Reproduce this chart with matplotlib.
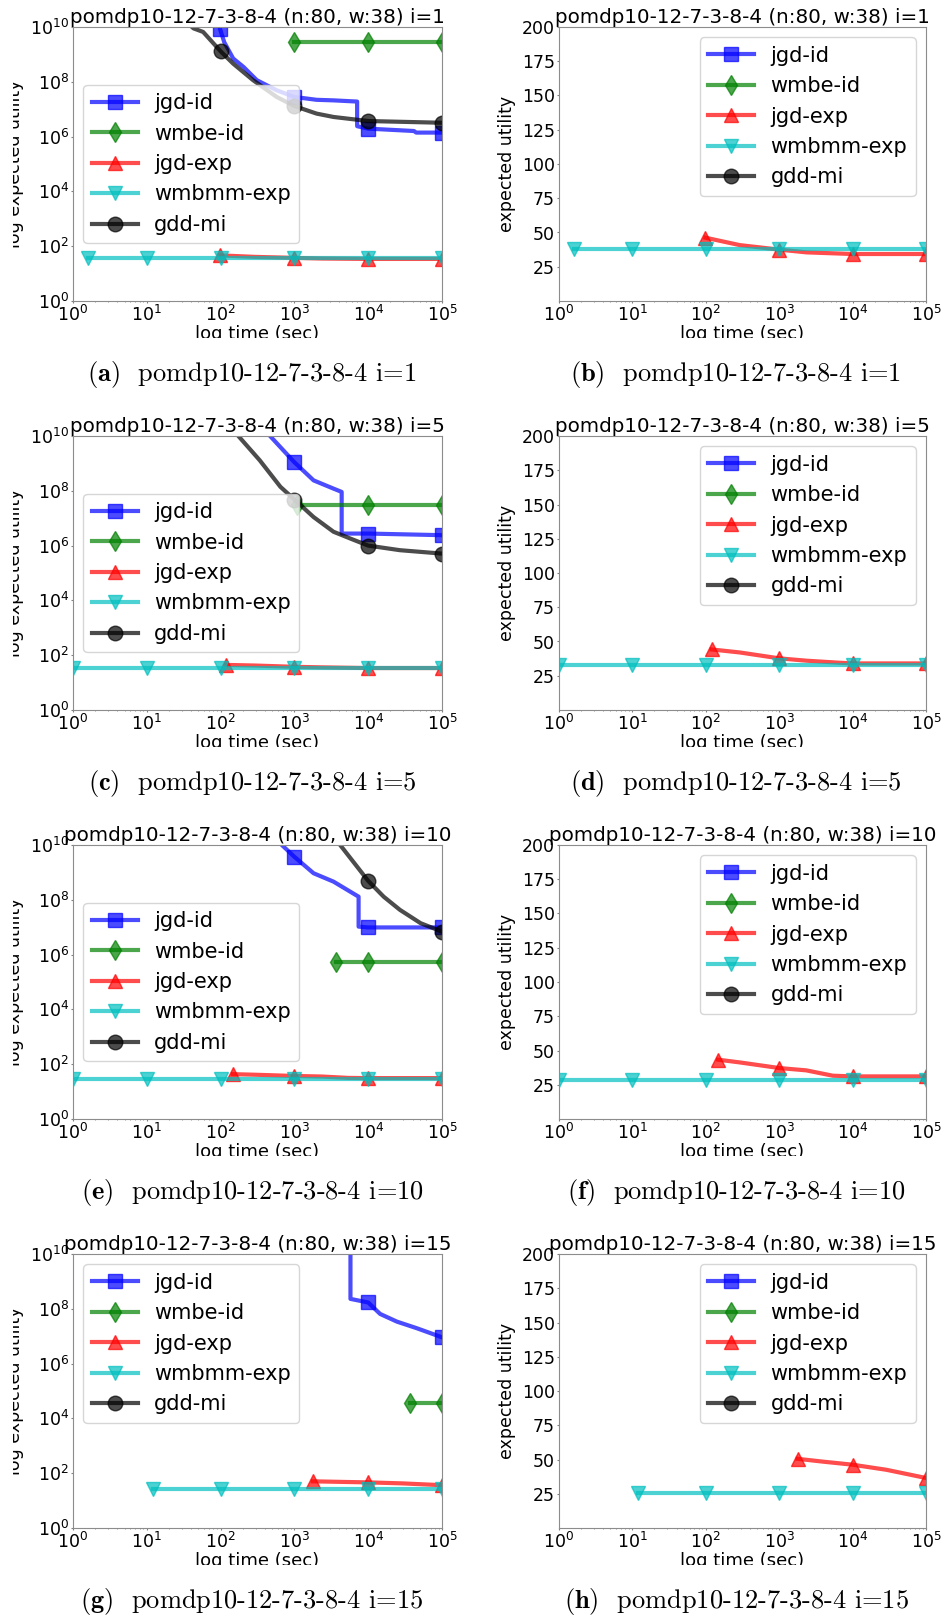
import numpy as np
import matplotlib
matplotlib.use('Agg')
import matplotlib.pyplot as plt
from matplotlib.patches import Rectangle
from matplotlib.ticker import NullLocator

# ---- data: (time in sec, expected utility) ----
# i=1
r1_jgd_id_t = [98, 112, 148, 204, 309, 575, 1000, 2000, 3400, 7080, 7080, 10000, 41700, 44700, 100000]
r1_jgd_id_v = [8.7e9, 2.8e9, 7.1e8, 3.5e8, 1.15e8, 4.9e7, 2.8e7, 2.2e7, 2.1e7, 1.9e7, 2.4e6, 1.95e6, 1.6e6, 1.4e6, 1.4e6]
r1_wmbe_id_t = [1000, 10000, 100000]
r1_wmbe_id_v = [2.8e9, 2.8e9, 2.8e9]
r1_jgd_exp_t = [99, 290, 1000, 2350, 10000, 100000]
r1_jgd_exp_v = [46.2, 40.8, 37.5, 35.5, 34.3, 34.3]
r1_wmbmm_t = [1.6, 10, 100, 1000, 10000, 100000]
r1_wmbmm_v = [37.7, 37.7, 37.7, 37.7, 37.7, 37.7]
r1_gdd_t = [25, 43, 58, 100, 148, 275, 575, 1000, 2000, 3400, 10000, 100000]
r1_gdd_v = [3.2e10, 8.9e9, 6.6e9, 1.3e9, 4.6e8, 1.15e8, 2.8e7, 1.3e7, 6.9e6, 5.2e6, 3.7e6, 3.2e6]

# i=5
r2_jgd_id_t = [355, 468, 1000, 1820, 3390, 4370, 4370, 10000, 100000]
r2_jgd_id_v = [3.2e10, 1e10, 1.1e9, 2.4e8, 1.2e8, 9.1e7, 2.75e6, 2.75e6, 2.4e6]
r2_wmbe_id_t = [1070, 10000, 100000]
r2_wmbe_id_v = [2.95e7, 2.95e7, 2.95e7]
r2_jgd_exp_t = [120, 290, 1000, 2340, 6600, 10000, 100000]
r2_jgd_exp_v = [44.2, 42.0, 37.7, 36.0, 34.5, 34.0, 34.0]
r2_wmbmm_t = [1, 10, 100, 1000, 10000, 100000]
r2_wmbmm_v = [32.8, 32.8, 32.8, 32.8, 32.8, 32.8]
r2_gdd_t = [126, 174, 339, 646, 1000, 1820, 3390, 5750, 10000, 26900, 100000]
r2_gdd_v = [3.2e10, 1e10, 1.3e9, 1.4e8, 4.8e7, 1.1e7, 3.2e6, 1.8e6, 1.0e6, 6.8e5, 5.1e5]

# i=10
r3_jgd_id_t = [500, 676, 1000, 1820, 3390, 7410, 7410, 10000, 100000]
r3_jgd_id_v = [3.2e10, 1e10, 3.7e9, 9.3e8, 4.6e8, 1.3e8, 1.05e7, 9.8e6, 9.8e6]
r3_wmbe_id_t = [3700, 10000, 100000]
r3_wmbe_id_v = [5.3e5, 5.3e5, 5.3e5]
r3_jgd_exp_t = [147, 290, 1000, 2340, 5370, 10000, 100000]
r3_jgd_exp_v = [43.3, 41.3, 37.2, 35.5, 31.6, 31.1, 31.1]
r3_wmbmm_t = [1, 10, 100, 1000, 10000, 100000]
r3_wmbmm_v = [28.7, 28.7, 28.7, 28.7, 28.7, 28.7]
r3_gdd_t = [2820, 4170, 10000, 16200, 26900, 51300, 100000]
r3_gdd_v = [4e10, 1e10, 4.9e8, 1.3e8, 4.3e7, 1.4e7, 6.9e6]

# i=15
r4_jgd_id_t = [5750, 5750, 10000, 14500, 24500, 45700, 100000]
r4_jgd_id_v = [3.2e10, 2.3e8, 1.7e8, 6.5e7, 3.4e7, 1.95e7, 9.1e6]
r4_wmbe_id_t = [37000, 100000]
r4_wmbe_id_v = [3.6e4, 3.6e4]
r4_jgd_exp_t = [1780, 4000, 10000, 28800, 100000]
r4_jgd_exp_v = [50.5, 48.4, 46.2, 42.5, 36.5]
r4_wmbmm_t = [12, 100, 1000, 10000, 100000]
r4_wmbmm_v = [25.5, 25.5, 25.5, 25.5, 25.5]
r4_gdd_t = []
r4_gdd_v = []

iterations = [1, 5, 10, 15]
rows = [
    [(r1_jgd_id_t, r1_jgd_id_v), (r1_wmbe_id_t, r1_wmbe_id_v), (r1_jgd_exp_t, r1_jgd_exp_v),
     (r1_wmbmm_t, r1_wmbmm_v), (r1_gdd_t, r1_gdd_v)],
    [(r2_jgd_id_t, r2_jgd_id_v), (r2_wmbe_id_t, r2_wmbe_id_v), (r2_jgd_exp_t, r2_jgd_exp_v),
     (r2_wmbmm_t, r2_wmbmm_v), (r2_gdd_t, r2_gdd_v)],
    [(r3_jgd_id_t, r3_jgd_id_v), (r3_wmbe_id_t, r3_wmbe_id_v), (r3_jgd_exp_t, r3_jgd_exp_v),
     (r3_wmbmm_t, r3_wmbmm_v), (r3_gdd_t, r3_gdd_v)],
    [(r4_jgd_id_t, r4_jgd_id_v), (r4_wmbe_id_t, r4_wmbe_id_v), (r4_jgd_exp_t, r4_jgd_exp_v),
     (r4_wmbmm_t, r4_wmbmm_v), (r4_gdd_t, r4_gdd_v)],
]
series_names = ['jgd-id', 'wmbe-id', 'jgd-exp', 'wmbmm-exp', 'gdd-mi']
series_colors = ['b', 'g', 'r', 'c', 'k']
series_markers = ['s', 'd', '^', 'v', 'o']
letters = 'abcdefgh'

# ---- layout (pixels on the 946x1617 sheet) ----
W, H = 946, 1617
fig = plt.figure(figsize=(W / 100, H / 100), dpi=100, facecolor='white')

col_x = [(73, 369), (559, 367)]
row_top = [27, 436, 845, 1254]
ax_h = 274
cap_x = [252, 736]
cap_base = [381, 790, 1199, 1608]
left_legend = ['center left', 'center left', 'center left', 'upper left']


def px_rect(x, y, w, h):
    return [x / W, 1 - (y + h) / H, w / W, h / H]


for r, series in enumerate(rows):
    for c in range(2):
        x0, w = col_x[c]
        ax = fig.add_axes(px_rect(x0, row_top[r], w, ax_h))
        for (t, v), name, col, mk in zip(series, series_names, series_colors, series_markers):
            t = np.asarray(t, dtype=float)
            v = np.asarray(v, dtype=float)
            marks = None
            if t.size:
                lt = np.log10(t)
                marks = [i for i in range(t.size) if i == 0 or np.isclose(lt[i], round(lt[i]))]
            ax.plot(t, v, color=col, marker=mk, ms=10.5, lw=3, alpha=0.7,
                    markevery=marks, label=name)
        ax.set_xscale('log')
        ax.set_xlim(1, 1e5)
        leg_kw = dict(fontsize=15, handlelength=2.2, labelspacing=0.5)
        if c == 0:
            ax.set_yscale('log')
            ax.set_ylim(1, 1e10)
            ax.set_yticks([10.0 ** k for k in range(0, 11, 2)])
            ax.yaxis.set_minor_locator(NullLocator())
            ax.set_ylabel('log expected utility', fontsize=12.5)
            ax.legend(loc=left_legend[r], **leg_kw)
        else:
            ax.set_ylim(0, 200)
            ax.set_yticks(range(25, 201, 25))
            ax.set_ylabel('expected utility', fontsize=12.5)
            ax.legend(loc='upper right', **leg_kw)
        ax.set_xticks([10.0 ** k for k in range(6)])
        ax.set_xlabel('log time (sec)', fontsize=13, labelpad=-0.5)
        ax.tick_params(which='major', labelsize=12.5, length=1.5, pad=1.5, color='0.5')
        ax.tick_params(which='minor', length=1, color='0.5')
        for sp in ax.spines.values():
            sp.set_color('0.55')
        ax.set_title(f'pomdp10-12-7-3-8-4 (n:80, w:38) i={iterations[r]}', fontsize=14.3, pad=1.5)

        # the original sub-figures were cropped: hide the cut-off parts of the labels
        bottom = row_top[r] + ax_h
        fig.add_artist(Rectangle(((x0 + w / 2 - 80) / W, 1 - (bottom + 58) / H), 160 / W, 21 / H,
                                 transform=fig.transFigure, facecolor='white',
                                 edgecolor='none', zorder=10))

        fig.text(cap_x[c] / W, 1 - cap_base[r] / H,
                 rf'$\mathbf{{({letters[2 * r + c]})}}$  pomdp10-12-7-3-8-4 i={iterations[r]}',
                 family='cmr10', math_fontfamily='cm', fontsize=19,
                 ha='center', va='baseline', zorder=11)

fig.add_artist(Rectangle((0, 0), 13 / W, 1, transform=fig.transFigure,
                         facecolor='white', edgecolor='none', zorder=10))

fig.savefig('out.png', dpi=100, facecolor='white')
